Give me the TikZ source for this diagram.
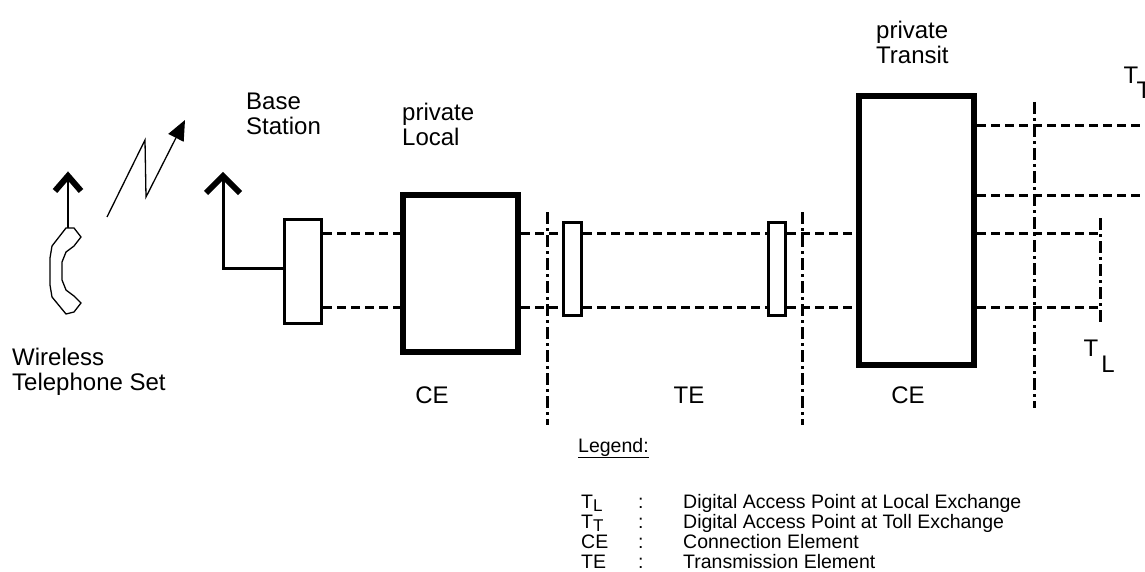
\documentclass[tikz,border=0pt]{standalone}
\usepackage{fontspec}
\setmainfont{Liberation Sans}
\usetikzlibrary{arrows.meta}
\begin{document}
\begin{tikzpicture}[x=1pt,y=-1pt,
  lbl/.style={font=\fontsize{24}{25}\selectfont, inner sep=0pt, align=left},
  leg/.style={font=\fontsize{19.5}{20}\selectfont, inner sep=0pt, anchor=base west},
  thickbox/.style={draw, line width=6pt, inner sep=0pt},
  thinbox/.style={draw, line width=3pt, inner sep=0pt, fill=white},
  dashline/.style={line width=3pt, dash pattern=on 9pt off 5pt},
  dashdot/.style={line width=3pt, dash pattern=on 12pt off 4pt on 3pt off 4pt},
  chev/.style={line width=6pt, line cap=butt, line join=miter}
]
\useasboundingbox (0,0) rectangle (1145,572);
\clip (0,0) rectangle (1145,572);

% level coordinates
\coordinate (yA) at (0,233);
\coordinate (yB) at (0,307);
\coordinate (yC) at (0,126);
\coordinate (yD) at (0,196);
\coordinate (redge) at (1145,0);

% boxes
\node[thinbox, minimum width=37pt, minimum height=104pt] (base) at (303,271.5) {};
\node[thickbox, minimum width=115pt, minimum height=157pt] (local) at (460.5,273.5) {};
\node[thinbox, minimum width=18pt, minimum height=93pt] (tb1) at (572.5,269) {};
\node[thinbox, minimum width=17pt, minimum height=93pt] (tb2) at (777,269) {};
\node[thickbox, minimum width=115pt, minimum height=269pt] (transit) at (916.5,230.5) {};

% dash-dot reference lines
\coordinate (d1t) at (547,212); \coordinate (d1b) at (547,425);
\coordinate (d2t) at (802,212); \coordinate (d2b) at (802,425);
\coordinate (d3t) at (1034,102); \coordinate (d3b) at (1034,408);
\coordinate (d4t) at (1100,218); \coordinate (d4b) at (1100,325);
\draw[dashdot] (d1t) -- (d1b);
\draw[dashdot] (d2t) -- (d2b);
\draw[dashdot] (d3t) -- (d3b);
\draw[dashdot] (d4t) -- (d4b);

% dashed connections
\foreach \y in {yA,yB}{
  \draw[dashline] (base.east |- \y) -- (local.west |- \y);
  \draw[dashline] (local.east |- \y) -- (tb1.west |- \y);
  \draw[dashline] (tb1.east |- \y) -- (tb2.west |- \y);
  \draw[dashline] (tb2.east |- \y) -- (transit.west |- \y);
  \draw[dashline] (transit.east |- \y) -- (d4t |- \y);
}
\foreach \y in {yC,yD}{
  \draw[dashline] (transit.east |- \y) -- (redge |- \y);
}

% base station antenna
\coordinate (bant) at (223,268);
\coordinate (btop) at (223,178);
\draw[line width=3pt] (base.west |- bant) -- (bant) -- (btop);
\coordinate (bcl) at (206,193); \coordinate (bcr) at (240,193); \coordinate (bcm) at (223,176);
\draw[chev] (bcl) -- (bcm) -- (bcr);

% telephone handset
\draw[line width=1.3pt, line join=miter] (66,228) -- (74,228) -- (81,237) -- (74,246) -- (66,252) -- (62,262) -- (62,280) -- (66,290) -- (74,296) -- (81,303) -- (74,312) -- (66,314) -- (52,297) -- (50,285) -- (50,258) -- (52,246) -- cycle;
\coordinate (pant) at (68,228);
\coordinate (ptop) at (68,178);
\draw[line width=2pt] (pant) -- (ptop);
\coordinate (pcl) at (55,191); \coordinate (pcr) at (81,191); \coordinate (pcm) at (68,176);
\draw[chev] (pcl) -- (pcm) -- (pcr);

% radio link zigzag
\coordinate (z0) at (107,217);
\coordinate (z1) at (145,140);
\coordinate (z2) at (146,197);
\coordinate (z3) at (185,120);
\draw[line width=1.3pt, -{Triangle[length=20pt,width=17pt]}] (z0) -- (z1) -- (z2) -- (z3);

% labels
\node[lbl, anchor=west] (lbase) at (246,114) {Base\\Station};
\node[lbl, anchor=west] (llocal) at (402,124) {private\\Local};
\node[lbl, anchor=west] (ltransit) at (876,42) {private\\Transit};
\node[lbl, anchor=west] (lphone) at (12,372) {Wireless\\Telephone Set};
\node[lbl] (ce1) at (432,395) {CE};
\node[lbl] (te) at (689,395) {TE};
\node[lbl] (ce2) at (908,395) {CE};
\node[lbl] (tl) at (1091,348) {T};
\node[lbl] (tlsub) at (1108,364) {L};
\node[lbl] (tt) at (1131,75) {T};
\node[lbl] (ttsub) at (1144,90) {T};

% legend
\node[leg] (legh) at (578,452) {\underline{Legend:}};
\node[leg] (k1) at (581,508) {T\raisebox{-3.5pt}{\fontsize{17}{17}\selectfont L}};
\node[leg] (k2) at (581,528) {T\raisebox{-3.5pt}{\fontsize{17}{17}\selectfont T}};
\node[leg] (k3) at (581,548) {CE};
\node[leg] (k4) at (581,568) {TE};
\foreach \k/\t in {k1/Digital Access Point at Local Exchange, k2/Digital Access Point at Toll Exchange, k3/Connection Element, k4/Transmission Element}{
  \node[leg] at (638,0 |- \k.base) {:};
  \node[leg] at (683,0 |- \k.base) {\t};
}
\end{tikzpicture}
\end{document}
